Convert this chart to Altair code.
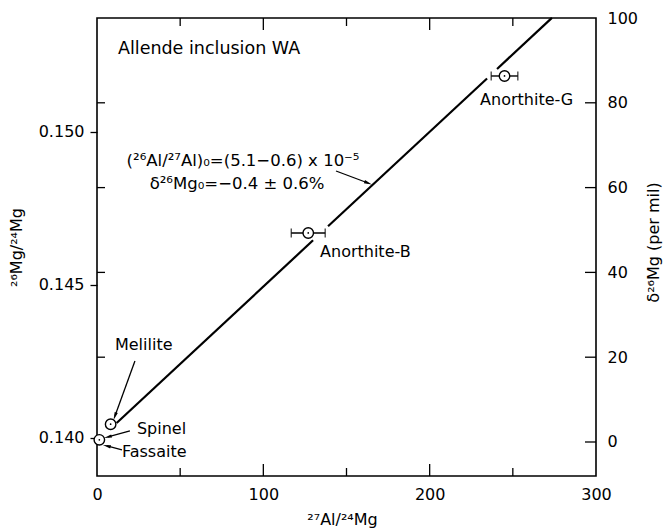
import math
import altair as alt
import pandas as pd

# ---------------- data ----------------
phases = ["Fassaite", "Melilite", "Anorthite-B", "Anorthite-G"]
al_mg = [1.4, 8.2, 127.0, 245.0]          # 27Al/24Mg
al_mg_err = [0.0, 0.0, 10.2, 8.0]         # horizontal error
mg_ratio = [0.13994, 0.14045, 0.14670, 0.15183]  # 26Mg/24Mg

# isochron (drawn broken near the anorthite points)
iso_seg = [1, 1, 2, 2, 3, 3]
iso_x = [11.8, 129.9, 138.9, 234.5, 240.5, 273.5]
iso_y = [0.14049, 0.14646, 0.14692, 0.15175, 0.15206, 0.15373]

x_major = [100, 200]
x_minor = [50, 150, 250]
x_labels = [0, 100, 200, 300]
left_ticks = [0.140, 0.145, 0.150]
right_ticks = [0, 20, 40, 60, 80, 100]
right_inner = [20, 40, 60, 80]

# annotations (data coordinates)
left_texts = ["Anorthite-B", "Anorthite-G", "Melilite", "Spinel", "Fassaite"]
left_text_x = [134.1, 230.3, 10.8, 24.0, 15.0]
left_text_y = [0.146078, 0.151046, 0.143039, 0.140294, 0.139542]

title_text = ["Allende inclusion WA"]
title_x = [12.6]
title_y = [0.152712]

eq_texts = ["(²⁶Al/²⁷Al)₀=(5.1−0.6) x 10⁻⁵", "δ²⁶Mg₀=−0.4 ± 0.6%"]
eq_x = [87.8, 84.2]
eq_y = [0.149052, 0.148301]

arrow_id = ["Melilite", "Spinel", "Fassaite", "Eq"]
arrow_x0 = [22.8, 19.8, 15.0, 143.7]
arrow_y0 = [0.142516, 0.140229, 0.139608, 0.148725]
arrow_x1 = [10.8, 6.6, 6.0, 162.9]
arrow_y1 = [0.140719, 0.140033, 0.139739, 0.148333]

# ---------------- layout ----------------
W, H = 499, 458
XDOM = [0, 300]
YDOM = [0.138758, 0.153725]
DDOM = [-8.02, 100]
FONT = "DejaVu Sans"
PX_X = W / (XDOM[1] - XDOM[0])
PX_Y = H / (YDOM[1] - YDOM[0])

xs = alt.Scale(domain=XDOM, nice=False, zero=False)
ys = alt.Scale(domain=YDOM, nice=False, zero=False)
ds = alt.Scale(domain=DDOM, nice=False, zero=False)

x_axis = alt.Axis(values=x_labels, ticks=False, domain=False, grid=False,
                  labelPadding=10, labelFontSize=16, format="d", labelFlush=False,
                  title="²⁷Al/²⁴Mg", titleFontSize=16, titleFontWeight="normal",
                  titleX=245, titleY=43, titleAlign="center", titleBaseline="middle")
y_axis = alt.Axis(values=left_ticks, format=".3f", tickSize=7, tickWidth=1.3,
                  domain=False, grid=False, labelPadding=6, labelFontSize=16,
                  labelFlush=False,
                  title="²⁶Mg/²⁴Mg", titleFontSize=16, titleFontWeight="normal",
                  titleAngle=270, titleX=-81, titleY=229, titleAlign="center",
                  titleBaseline="middle")
d_axis = alt.Axis(orient="right", values=right_ticks, format="d", ticks=False,
                  domain=False, grid=False, labelPadding=11, labelFontSize=16,
                  labelFlush=False,
                  title="δ²⁶Mg (per mil)", titleFontSize=16, titleFontWeight="normal",
                  titleAngle=270, titleX=57, titleY=224, titleAlign="center",
                  titleBaseline="middle")


def X(f):
    return alt.X(f"{f}:Q", scale=xs, axis=x_axis)


def Y(f):
    return alt.Y(f"{f}:Q", scale=ys, axis=y_axis)


def D(f):
    return alt.Y(f"{f}:Q", scale=ds, axis=d_axis)


pts = pd.DataFrame({"phase": phases, "x": al_mg, "err": al_mg_err, "y": mg_ratio})
pts["xmin"] = pts["x"] - pts["err"]
pts["xmax"] = pts["x"] + pts["err"]
eb = pts[pts["err"] > 0]
caps = pd.concat([
    pd.DataFrame({"x": eb["xmin"], "y": eb["y"]}),
    pd.DataFrame({"x": eb["xmax"], "y": eb["y"]}),
])

iso = pd.DataFrame({"seg": iso_seg, "x": iso_x, "y": iso_y})

ltxt = pd.DataFrame({"t": left_texts, "x": left_text_x, "y": left_text_y})
ttxt = pd.DataFrame({"t": title_text, "x": title_x, "y": title_y})
etxt = pd.DataFrame({"t": eq_texts, "x": eq_x, "y": eq_y})

arr_rows = []
head_rows = []
for i, a in enumerate(arrow_id):
    arr_rows.append({"id": a, "o": 0, "x": arrow_x0[i], "y": arrow_y0[i]})
    arr_rows.append({"id": a, "o": 1, "x": arrow_x1[i], "y": arrow_y1[i]})
    dx = (arrow_x1[i] - arrow_x0[i]) * PX_X
    dy = -(arrow_y1[i] - arrow_y0[i]) * PX_Y
    ang = math.degrees(math.atan2(dx, -dy)) % 360
    head_rows.append({"id": a, "x": arrow_x1[i], "y": arrow_y1[i], "ang": ang})
arr = pd.DataFrame(arr_rows)
heads = pd.DataFrame(head_rows)

ARROW = "M0,-1L0.4,0.9L-0.4,0.9Z"

err_rule = alt.Chart(eb).mark_rule(color="black", strokeWidth=1.4).encode(
    x=X("xmin"), x2="xmax", y=Y("y"))
cap_marks = alt.Chart(caps).mark_tick(orient="vertical", size=9, thickness=1.4,
                                      color="black").encode(x=X("x"), y=Y("y"))
iso_line = alt.Chart(iso).mark_line(color="black", strokeWidth=2.2).encode(
    x=X("x"), y=Y("y"), detail="seg:N")
circles = alt.Chart(pts).mark_point(shape="circle", size=110, filled=False,
                                    fill="white", fillOpacity=1, stroke="black",
                                    strokeWidth=1.4, opacity=1).encode(x=X("x"), y=Y("y"))
dots = alt.Chart(pts).mark_point(shape="circle", size=3, filled=True,
                                 color="black", opacity=1).encode(x=X("x"), y=Y("y"))
arr_lines = alt.Chart(arr).mark_line(color="black", strokeWidth=1.3).encode(
    x=X("x"), y=Y("y"), detail="id:N", order="o:Q")
arr_heads = alt.Chart(heads).mark_point(shape=ARROW, size=70, filled=True,
                                        color="black", opacity=1).encode(
    x=X("x"), y=Y("y"), angle=alt.Angle("ang:Q", scale=None))
ltext = alt.Chart(ltxt).mark_text(align="left", baseline="middle", font=FONT,
                                  fontSize=16, color="black").encode(
    x=X("x"), y=Y("y"), text="t:N")
ttext = alt.Chart(ttxt).mark_text(align="left", baseline="middle", font=FONT,
                                  fontSize=17.5, color="black").encode(
    x=X("x"), y=Y("y"), text="t:N")
etext = alt.Chart(etxt).mark_text(align="center", baseline="middle", font=FONT,
                                  fontSize=16.5, color="black").encode(
    x=X("x"), y=Y("y"), text="t:N")

# inward ticks on top / bottom of the frame
xt_major = pd.DataFrame({"v": x_major})
xt_minor = pd.DataFrame({"v": x_minor})
bt_major = alt.Chart(xt_major).mark_rule(color="black", strokeWidth=1.3).encode(
    x=X("v"), y=alt.value(H), y2=alt.value(H - 12))
bt_minor = alt.Chart(xt_minor).mark_rule(color="black", strokeWidth=1.3).encode(
    x=X("v"), y=alt.value(H), y2=alt.value(H - 8))
tp_major = alt.Chart(xt_major).mark_rule(color="black", strokeWidth=1.3).encode(
    x=X("v"), y=alt.value(0), y2=alt.value(12))
tp_minor = alt.Chart(xt_minor).mark_rule(color="black", strokeWidth=1.3).encode(
    x=X("v"), y=alt.value(0), y2=alt.value(8))

left_group = alt.layer(err_rule, cap_marks, iso_line, circles, dots, arr_lines,
                       arr_heads, ltext, ttext, etext, bt_major, bt_minor,
                       tp_major, tp_minor)

rt = pd.DataFrame({"d": right_ticks[:-1]})
lt = pd.DataFrame({"d": right_inner})
right_in = alt.Chart(rt).mark_rule(color="black", strokeWidth=1.3).encode(
    x=alt.value(W - 11), x2=alt.value(W), y=D("d"))
left_in = alt.Chart(lt).mark_rule(color="black", strokeWidth=1.3).encode(
    x=alt.value(0), x2=alt.value(8), y=D("d"))
right_group = alt.layer(right_in, left_in)

chart = alt.layer(left_group, right_group).resolve_scale(y="independent").properties(
    width=W, height=H,
    padding={"left": 97, "top": 18, "right": 68, "bottom": 52},
    autosize=alt.AutoSizeParams(type="none"),
    background="white",
).configure_view(stroke="black", strokeWidth=1.6).configure_axis(
    labelFont=FONT, titleFont=FONT, labelColor="black", titleColor="black",
    tickColor="black")

chart.save("out.html", embed_options={"renderer": "svg", "actions": False})
